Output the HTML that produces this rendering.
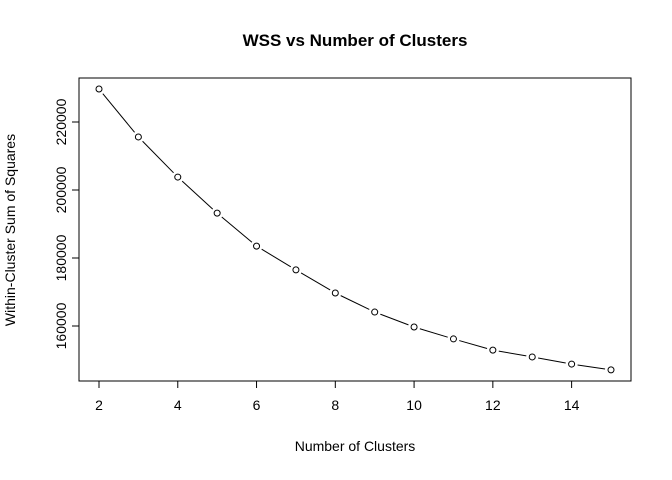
<!DOCTYPE html>
<html><head><meta charset="utf-8"><style>
body{margin:0;background:#fff}
svg{display:block;font-family:"Liberation Sans",Arial,sans-serif}
</style></head><body>
<svg id="chart" width="672" height="480" viewBox="0 0 672 480">
<rect width="672" height="480" fill="#fff"/>
<text x="355" y="46" text-anchor="middle" font-weight="bold" font-size="17">WSS vs Number of Clusters</text>
<rect x="79" y="78" width="552" height="303" fill="none" stroke="#000"/>
<text x="355" y="451" text-anchor="middle" font-size="14">Number of Clusters</text>
<text transform="translate(15,230) rotate(-90)" text-anchor="middle" font-size="14">Within-Cluster Sum of Squares</text>
<g id="xaxis"></g>
<g id="yaxis"></g>
<g id="series"></g>
</svg>
<script>
const clusters=[2,3,4,5,6,7,8,9,10,11,12,13,14,15];
const wss=[229700,215600,203800,193200,183500,176500,169700,164100,159700,156200,152900,150900,148800,147100];
const xTicks=[2,4,6,8,10,12,14];
const yTicks=[160000,180000,200000,220000];
const NS="http://www.w3.org/2000/svg";
function xs(v){return 99+(v-2)*(512/13);}
function ys(v){return 122-(v-220000)/20000*68;}
function mk(tag,attrs,parent){const e=document.createElementNS(NS,tag);for(const k in attrs)e.setAttribute(k,attrs[k]);parent.appendChild(e);return e;}
const xa=document.getElementById('xaxis'),ya=document.getElementById('yaxis'),sr=document.getElementById('series');
mk('line',{x1:xs(2),x2:xs(14),y1:381,y2:381,stroke:'#000'},xa);
xTicks.forEach(t=>{
 const l=mk('line',{x1:xs(t),x2:xs(t),y1:381,y2:388,stroke:'#000'},xa);
 
 
 const tx=mk('text',{x:xs(t),y:410,'text-anchor':'middle','font-size':14},xa);
 tx.textContent=t;
 
 
});
mk('line',{x1:79,x2:79,y1:ys(160000),y2:ys(220000),stroke:'#000'},ya);
yTicks.forEach(t=>{
 const l=mk('line',{x1:72,x2:79,y1:ys(t),y2:ys(t),stroke:'#000'},ya);
 
 
 const tx=mk('text',{transform:`translate(66,${ys(t)}) rotate(-90)`,'text-anchor':'middle','font-size':14},ya);
 tx.textContent=t;
 
 
});
const gap=6;
for(let i=0;i<clusters.length-1;i++){
 const x1=xs(clusters[i]),y1=ys(wss[i]),x2=xs(clusters[i+1]),y2=ys(wss[i+1]);
 const d=Math.hypot(x2-x1,y2-y1);if(d<=2*gap)continue;
 const ux=(x2-x1)/d,uy=(y2-y1)/d;
 const l=mk('line',{x1:x1+ux*gap,y1:y1+uy*gap,x2:x2-ux*gap,y2:y2-uy*gap,stroke:'#000','stroke-width':1},sr);
 
 
}
clusters.forEach((c,i)=>{
 const p=mk('circle',{cx:xs(c),cy:ys(wss[i]),r:3,fill:'none',stroke:'#000'},sr);
 
 
});
</script>
</body></html>
